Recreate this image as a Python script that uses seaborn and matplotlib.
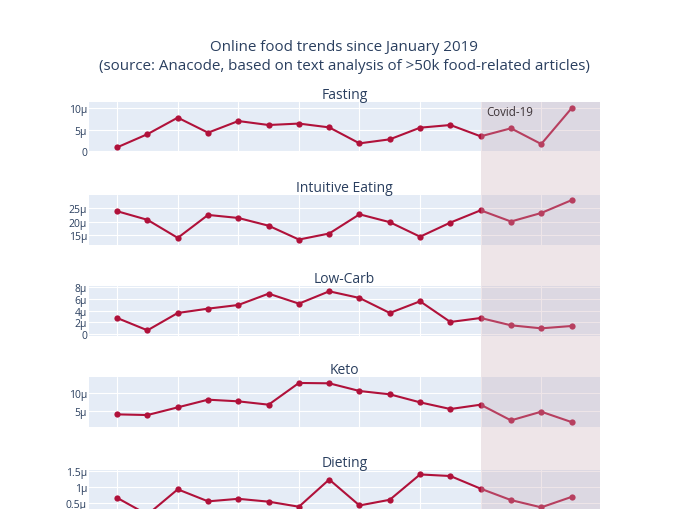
import pandas as pd
import seaborn as sns
import matplotlib.pyplot as plt
from matplotlib.patches import Rectangle
from matplotlib import transforms

# monthly share of articles (in millionths), Jan 2019 - Apr 2020
months = ["2019-01", "2019-02", "2019-03", "2019-04", "2019-05", "2019-06",
          "2019-07", "2019-08", "2019-09", "2019-10", "2019-11", "2019-12",
          "2020-01", "2020-02", "2020-03", "2020-04"]
fasting = [0.79, 3.9, 7.8, 4.25, 7.0, 6.06, 6.4, 5.5, 1.73, 2.68, 5.43, 6.06,
           3.39, 5.28, 1.57, 10.0]
intuitive_eating = [23.86, 20.63, 13.86, 22.47, 21.33, 18.42, 13.23, 15.5,
                    22.7, 19.75, 14.3, 19.6, 24.2, 20.0, 23.2, 28.0]
low_carb = [2.74, 0.63, 3.6, 4.34, 4.97, 6.91, 5.2, 7.31, 6.17, 3.6, 5.6,
            2.06, 2.74, 1.49, 0.97, 1.37]
keto = [3.94, 3.75, 5.96, 8.17, 7.69, 6.73, 12.98, 12.88, 10.67, 9.71, 7.4,
        5.48, 6.73, 2.21, 4.71, 1.73]
dieting = [0.66, 0.13, 0.93, 0.55, 0.63, 0.54, 0.38, 1.24, 0.42, 0.6, 1.4,
           1.35, 0.95, 0.59, 0.36, 0.69]
topics = ["Fasting", "Intuitive Eating", "Low-Carb", "Keto", "Dieting"]
covid_start = "2020-01"

df = pd.DataFrame({"month": months, "Fasting": fasting,
                   "Intuitive Eating": intuitive_eating, "Low-Carb": low_carb,
                   "Keto": keto, "Dieting": dieting})
df["x"] = range(len(df))

# axis settings (ticks / ranges as in the original)
yticks = {"Fasting": [0, 5, 10], "Intuitive Eating": [15, 20, 25],
          "Low-Carb": [0, 2, 4, 6, 8], "Keto": [5, 10],
          "Dieting": [0.5, 1, 1.5]}
ylims = {"Fasting": (-0.38, 11.42), "Intuitive Eating": (11.3, 30.06),
         "Low-Carb": (-0.29, 8.27), "Keto": (0.22, 14.61),
         "Dieting": (-0.03, 1.55)}

sns.set_theme(style="white")
plt.rcParams["font.family"] = ["Open Sans", "DejaVu Sans"]

W, H = 680, 510
fig = plt.figure(figsize=(W / 100, H / 100), dpi=100)
txt = "#2a3f5f"
line_col = "#b0113a"

left, right = 89, 600
tops = [103.3, 195.7, 286.7, 378.3, 470.7]
ph = 50

def fmt(v):
    if v == 0:
        return "0"
    return f"{v:g}μ"

axes = []
for topic, top in zip(topics, tops):
    ax = fig.add_axes([left / W, 1 - (top + ph) / H, (right - left) / W, ph / H])
    ax.set_facecolor("#E5ECF6")
    sns.lineplot(data=df, x="x", y=topic, ax=ax, color=line_col, lw=1.5,
                 marker="o", markersize=4.5, markeredgewidth=0, zorder=3)
    ax.set_xlim(-0.93, 15.94)
    ax.set_ylim(*ylims[topic])
    ax.set_xticks(range(0, 16, 2))
    ax.set_xticklabels([])
    ax.set_yticks(yticks[topic])
    ax.set_yticklabels([fmt(v) for v in yticks[topic]])
    ax.grid(True, color="white", lw=0.8)
    ax.tick_params(length=0, pad=1.5, labelsize=7.5, labelcolor=txt)
    for s in ax.spines.values():
        s.set_visible(False)
    ax.set_xlabel("")
    ax.set_ylabel("")
    ax.set_title(topic, fontsize=10, color=txt, pad=2.5)
    axes.append(ax)

# Covid-19 period shading across all panels
x0 = months.index(covid_start)
tr = transforms.blended_transform_factory(axes[0].transData, fig.transFigure)
y_top = axes[0].get_position().y1
fig.patches.append(Rectangle((x0, 0), 15.94 - x0, y_top, transform=tr,
                             facecolor=(200 / 255, 170 / 255, 182 / 255),
                             alpha=0.3, lw=0, zorder=10))
axes[0].annotate("Covid-19", xy=(x0, 1), xycoords=("data", "axes fraction"),
                 xytext=(6, -9.5), textcoords="offset pixels", ha="left",
                 va="center", fontsize=8.3, color="black", zorder=11,
                 annotation_clip=False)

fig.text((left + right) / 2 / W, 1 - 47.3 / H,
         "Online food trends since January 2019", ha="center", va="center",
         fontsize=10.9, color=txt)
fig.text((left + right) / 2 / W, 1 - 66 / H,
         "(source: Anacode, based on text analysis of >50k food-related articles)",
         ha="center", va="center", fontsize=10.9, color=txt)

fig.savefig("out.png", dpi=100)
